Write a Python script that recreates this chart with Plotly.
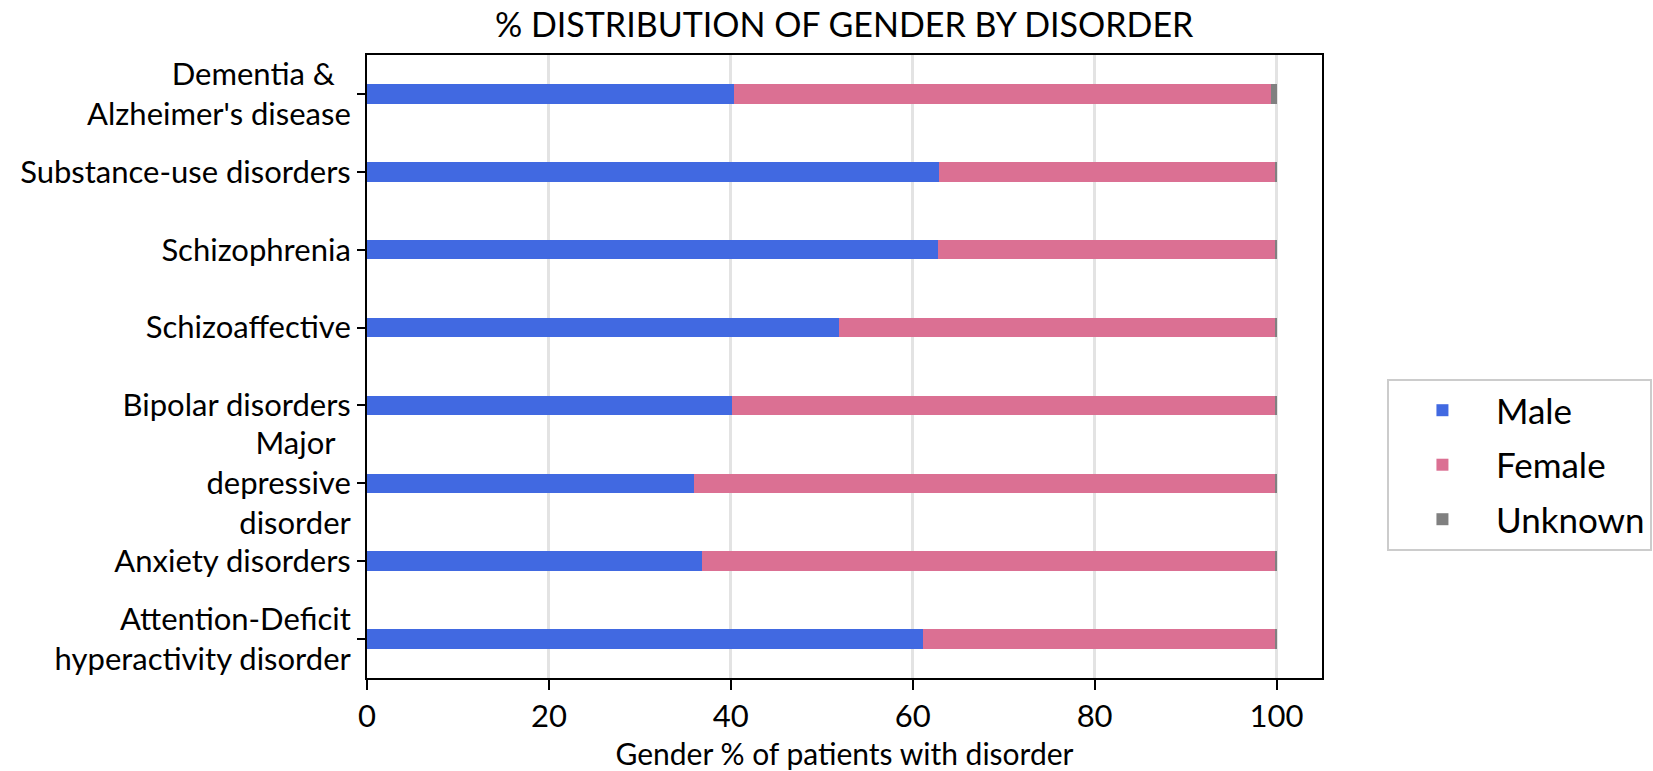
import plotly.graph_objects as go

categories = [
    "Dementia &\u00a0\u00a0<br>Alzheimer's disease",
    "Substance-use disorders",
    "Schizophrenia",
    "Schizoaffective",
    "Bipolar disorders",
    "Major\u00a0\u00a0<br>depressive<br>disorder",
    "Anxiety disorders",
    "Attention-Deficit<br>hyperactivity disorder",
]
male = [40.4, 62.9, 62.8, 51.9, 40.1, 36.0, 36.8, 61.1]
female = [59.0, 37.0, 37.1, 48.0, 59.8, 63.9, 63.1, 38.8]
unknown = [0.6, 0.1, 0.1, 0.1, 0.1, 0.1, 0.1, 0.1]
x_ticks = [0, 20, 40, 60, 80, 100]

FONT = "Lato"
fig = go.Figure()
for name, vals, col in [("Male", male, "#4169E1"), ("Female", female, "#DB7093"), ("Unknown", unknown, "#808080")]:
    fig.add_trace(go.Bar(y=categories, x=vals, name=name, orientation="h", legendgroup=name,
                         marker=dict(color=col, line=dict(width=0)), width=0.25))

fig.update_layout(
    barmode="stack",
    width=1653, height=771,
    margin=dict(l=367, r=331, t=55, b=93, autoexpand=False),
    paper_bgcolor="white", plot_bgcolor="white",
    font=dict(family=FONT, size=31, color="black"),
    title=dict(text="% DISTRIBUTION OF GENDER BY DISORDER", x=0.5107, xanchor="center",
               y=0.967, yanchor="middle", font=dict(size=34)),
    legend=dict(x=1.068, y=0.48, xanchor="left", yanchor="top", bordercolor="#cccccc",
                borderwidth=2, font=dict(size=35), itemwidth=97, traceorder="grouped",
                tracegroupgap=6),
    bargap=0.75,
)
fig.update_xaxes(range=[0, 105], tickvals=x_ticks, showgrid=True, gridcolor="#e3e3e3", gridwidth=3,
                 showline=True, linecolor="black", linewidth=2, mirror=True,
                 ticks="outside", ticklen=10, tickwidth=2, tickcolor="black",
                 tickfont=dict(size=31), zeroline=False, automargin=False,
                 title=dict(text="Gender % of patients with disorder", font=dict(size=30), standoff=12))
fig.update_yaxes(categoryorder="array", categoryarray=categories, autorange="reversed",
                 showline=True, linecolor="black", linewidth=2, mirror=True,
                 ticks="outside", ticklen=8, tickwidth=2, tickcolor="black",
                 tickfont=dict(size=31), showgrid=False, automargin=False)

fig.write_html("out.html", config={"displayModeBar": False},
               post_script="document.body.style.margin='0';")
